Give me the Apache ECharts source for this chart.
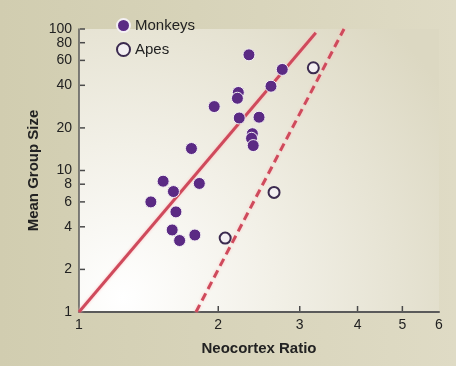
<!DOCTYPE html>
<html>
<head>
<meta charset="utf-8">
<script src="https://cdn.jsdelivr.net/npm/echarts@6/dist/echarts.min.js"></script>
<style>
html,body{margin:0;padding:0;}
#chart{width:456px;height:366px;}
</style>
</head>
<body>
<div id="chart"></div>
<script>
// Monkeys: [neocortex ratio, mean group size]
const monkeys = [
  [2.33, 65.7], [2.75, 51.8], [2.60, 39.4], [2.21, 35.6], [2.20, 32.4],
  [1.96, 28.3], [2.22, 23.5], [2.45, 23.8], [2.37, 18.2], [2.36, 16.9],
  [2.38, 15.0], [1.75, 14.3], [1.52, 8.4], [1.60, 7.1], [1.82, 8.1],
  [1.43, 6.0], [1.62, 5.1], [1.59, 3.8], [1.65, 3.2], [1.78, 3.5]
];
// Apes
const apes = [[3.21, 53.2], [2.64, 7.0], [2.07, 3.33]];
// Regression lines (end points)
const monkeyLine = [[1, 1], [3.25, 94]];
const apeLine = [[1.79, 1], [3.74, 100]];
// Tick labels
const xTicks = [1, 2, 3, 4, 5, 6];
const yTicks = [1, 2, 4, 6, 8, 10, 20, 40, 60, 80, 100];
const xTickMarks = [2, 3, 4, 5];
const yTickMarks = [2, 4, 6, 8, 10, 20, 40, 60, 80, 100];

const font = '"Liberation Sans", Arial, Helvetica, sans-serif';
const tickColor = '#4a4a4a';
const chart = echarts.init(document.getElementById('chart'));
chart.setOption({
  animation: false,
  backgroundColor: new echarts.graphic.LinearGradient(0, 0, 1, 0, [
    {offset: 0, color: '#d1cdb0'}, {offset: 1, color: '#dfdbc5'}
  ]),
  textStyle: {fontFamily: font},
  grid: {
    left: 79, right: 17, top: 29, bottom: 54, show: true, borderWidth: 0,
    backgroundColor: new echarts.graphic.RadialGradient(0.12, 0.95, 1.35, [
      {offset: 0, color: '#ffffff'}, {offset: 0.4, color: '#f2f0e7'}, {offset: 1, color: '#dcd8c2'}
    ])
  },
  legend: {
    orient: 'vertical', left: 111, top: 13, itemWidth: 13, itemHeight: 13, itemGap: 9,
    textStyle: {fontSize: 15, color: '#222', fontFamily: font},
    data: [{name: 'Monkeys', icon: 'circle'}, {name: 'Apes', icon: 'circle'}]
  },
  xAxis: {
    type: 'log', logBase: 10, min: 1, max: 6,
    name: 'Neocortex Ratio', nameLocation: 'middle', nameGap: 29,
    nameTextStyle: {fontSize: 15, fontWeight: 'bold', color: '#222', fontFamily: font},
    axisLine: {lineStyle: {color: '#5a5a5a', width: 2}},
    axisTick: {show: false},
    axisLabel: {customValues: xTicks, fontSize: 14, color: '#222', margin: 6, showMinLabel: true, showMaxLabel: true},
    splitLine: {show: false}, minorTick: {show: false}
  },
  yAxis: {
    type: 'log', logBase: 10, min: 1, max: 100,
    name: 'Mean Group Size', nameLocation: 'middle', nameGap: 38,
    nameTextStyle: {fontSize: 15, fontWeight: 'bold', color: '#222', fontFamily: font},
    axisLine: {show: true, lineStyle: {color: '#5a5a5a', width: 1.5}},
    axisTick: {show: false},
    axisLabel: {show: false},
    splitLine: {show: false}, minorTick: {show: false}
  },
  series: [
    {
      type: 'custom', silent: true, z: 4, clip: false,
      data: xTickMarks.map(v => [v, 1]),
      encode: {x: 0, y: 1},
      renderItem: function (params, api) {
        const p = api.coord([api.value(0), 1]);
        return {type: 'line', shape: {x1: p[0], y1: p[1] - 1, x2: p[0], y2: p[1] - 6},
          style: {stroke: tickColor, lineWidth: 1.5}};
      }
    },
    {
      type: 'custom', silent: true, z: 4, clip: false,
      data: yTickMarks.map(v => [1, v]),
      encode: {x: 0, y: 1},
      renderItem: function (params, api) {
        const p = api.coord([1, api.value(1)]);
        return {type: 'line', shape: {x1: p[0] + 1, y1: p[1], x2: p[0] + 6, y2: p[1]},
          style: {stroke: tickColor, lineWidth: 1.5}};
      }
    },
    {
      type: 'custom', silent: true, z: 4, clip: false,
      data: yTicks.map(v => [1, v]),
      encode: {x: 0, y: 1},
      renderItem: function (params, api) {
        const v = api.value(1);
        const p = api.coord([1, v]);
        return {type: 'text', x: p[0] - 7, y: p[1],
          style: {text: String(v), fill: '#222', fontSize: 14, fontFamily: font,
            align: 'right', verticalAlign: 'middle'}};
      }
    },
    {
      type: 'line', data: monkeyLine, symbol: 'none', z: 1, silent: true,
      lineStyle: {color: '#cf4a5c', width: 3, shadowColor: 'rgba(255,190,190,0.9)', shadowBlur: 3}
    },
    {
      type: 'line', data: apeLine, symbol: 'none', z: 1, silent: true,
      lineStyle: {color: '#cf4a5c', width: 3, type: [8, 5], shadowColor: 'rgba(255,190,190,0.9)', shadowBlur: 3}
    },
    {
      name: 'Monkeys', type: 'scatter', data: monkeys, symbolSize: 12, z: 3,
      itemStyle: {color: '#5b2a84', borderColor: '#f4f0f4', borderWidth: 1, opacity: 1}
    },
    {
      name: 'Apes', type: 'scatter', data: apes, symbolSize: 11, z: 3,
      itemStyle: {color: '#f3eff2', borderColor: '#3b2a4f', borderWidth: 2, opacity: 1}
    }
  ]
});
</script>
</body>
</html>
